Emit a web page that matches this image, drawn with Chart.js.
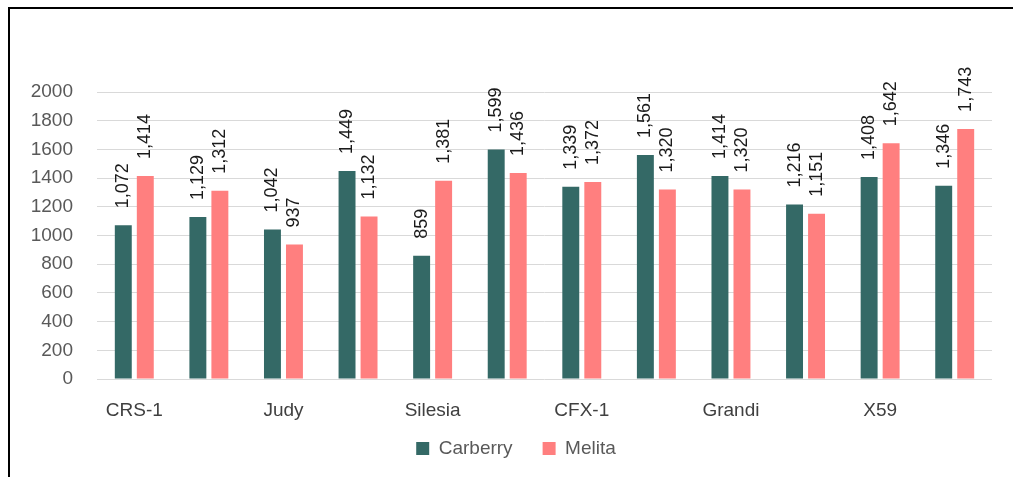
<!DOCTYPE html>
<html>
<head>
<meta charset="utf-8">
<script src="https://cdn.jsdelivr.net/npm/chart.js@4/dist/chart.umd.min.js"></script>
<style>
  html, body { margin: 0; padding: 0; background: #fff; }
  #wrap { position: relative; width: 1013px; height: 477px; overflow: hidden; }
  #frame { position: absolute; left: 8px; top: 7px; width: 1200px; height: 700px; border: 2px solid #000; box-sizing: border-box; }
  #c { position: absolute; left: 0; top: 0; }
</style>
</head>
<body>
<div id="wrap">
  <div id="frame"></div>
  <canvas id="c" width="1013" height="477"></canvas>
</div>
<script>
// Categories (only every other label is shown in the reference)
const categories = ['CRS-1', '', 'Judy', '', 'Silesia', '', 'CFX-1', '', 'Grandi', '', 'X59', ''];
const carberry = [1072, 1129, 1042, 1449, 859, 1599, 1339, 1561, 1414, 1216, 1408, 1346];
const melita   = [1414, 1312, 937, 1132, 1381, 1436, 1372, 1320, 1320, 1151, 1642, 1743];
const seriesNames = ['Carberry', 'Melita'];
const seriesColors = ['#346966', '#FF7F7F'];
const yTicks = { min: 0, max: 2000, step: 200 };

const FONT = "'Liberation Sans', Arial, sans-serif";

const valueLabels = {
  id: 'valueLabels',
  afterDatasetsDraw(chart) {
    const ctx = chart.ctx;
    ctx.save();
    ctx.font = '18px ' + FONT;
    ctx.fillStyle = '#1a1a1a';
    ctx.textAlign = 'left';
    ctx.textBaseline = 'middle';
    chart.data.datasets.forEach((ds, di) => {
      const meta = chart.getDatasetMeta(di);
      meta.data.forEach((el, i) => {
        const v = ds.data[i];
        ctx.save();
        ctx.translate(el.x, el.y - 17);
        ctx.rotate(-Math.PI / 2);
        ctx.fillText(v.toLocaleString('en-US'), 0, 0);
        ctx.restore();
      });
    });
    ctx.restore();
  }
};

// nudge the legend block to where the reference places it
const legendNudge = {
  id: 'legendNudge',
  afterLayout(chart) {
    const lg = chart.legend;
    if (!lg) return;
    const dx = 10, dy = -13;
    lg.left += dx; lg.right += dx;
    lg.top += dy; lg.bottom += dy;
  }
};

new Chart(document.getElementById('c'), {
  type: 'bar',
  data: {
    labels: categories,
    datasets: [
      { label: seriesNames[0], data: carberry, backgroundColor: seriesColors[0],
        categoryPercentage: 0.59, barPercentage: 0.77 },
      { label: seriesNames[1], data: melita, backgroundColor: seriesColors[1],
        categoryPercentage: 0.59, barPercentage: 0.77 }
    ]
  },
  options: {
    responsive: false,
    animation: false,
    devicePixelRatio: 1,
    layout: { padding: { top: 92, left: 20, right: 21, bottom: 0 } },
    plugins: {
      tooltip: { enabled: false },
      legend: {
        position: 'bottom',
        maxHeight: 55,
        labels: {
          boxWidth: 13, boxHeight: 13, padding: 30,
          color: '#595959',
          font: { family: FONT, size: 19 }
        }
      }
    },
    scales: {
      x: {
        grid: { display: false, drawTicks: false },
        border: { display: false },
        ticks: {
          autoSkip: false, maxRotation: 0, padding: 20,
          color: '#404040',
          font: { family: FONT, size: 19 }
        },
        afterFit(scale) { scale.height = 43; }
      },
      y: {
        min: yTicks.min, max: yTicks.max,
        grid: { color: '#d9d9d9', drawTicks: false },
        border: { display: false },
        ticks: {
          stepSize: yTicks.step, padding: 24,
          color: '#595959',
          font: { family: FONT, size: 19 },
          callback: (v) => String(v)
        },
        afterFit(scale) { scale.width = 77; }
      }
    }
  },
  plugins: [valueLabels, legendNudge]
});
</script>
</body>
</html>
